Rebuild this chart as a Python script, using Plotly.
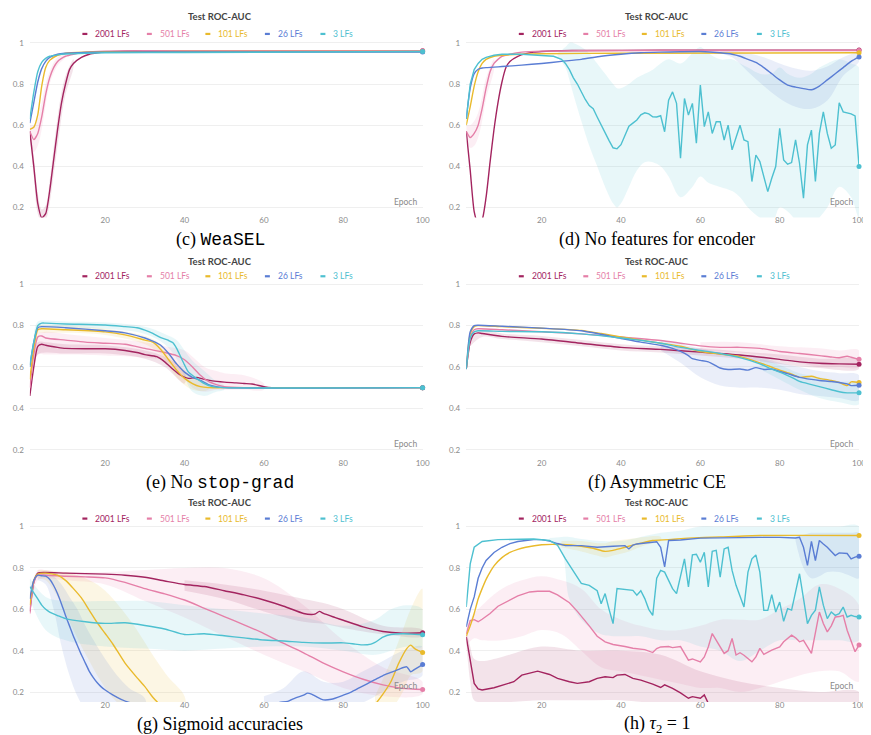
import plotly.graph_objects as go

# ====================== DATA ======================
SERIES_NAMES = ["2001 LFs", "501 LFs", "101 LFs", "26 LFs", "3 LFs"]
PANEL_TITLE = "Test ROC-AUC"
X_LABEL = "Epoch"
X_TICK_VALS = [20, 40, 60, 80, 100]
Y_TICK_VALS = [0.2, 0.4, 0.6, 0.8, 1.0]
Y_TICK_TEXT = ["0.2", "0.4", "0.6", "0.8", "1"]
CAPTIONS = [
    "(c) <span style='font-family:Liberation Mono'>WeaSEL</span>",
    "(d) No features for encoder",
    "(e) No <span style='font-family:Liberation Mono'>stop-grad</span>",
    "(f) Asymmetric CE",
    "(g) Sigmoid accuracies",
    "(h) <i>τ</i><sub>2</sub> = 1",
]

# ---- (c) WeaSEL ----
c_2001_ep = [1, 2, 3, 4, 5, 6, 7, 8, 9, 10, 11, 12, 14, 16, 18, 20, 25, 30, 50, 70, 100]
c_2001_y = [0.57, 0.40, 0.22, 0.15, 0.17, 0.28, 0.43, 0.58, 0.71, 0.80, 0.87, 0.90, 0.93, 0.945, 0.952, 0.956, 0.96, 0.961, 0.962, 0.962, 0.962]
c_501_ep = [1, 2, 3, 4, 5, 6, 7, 8, 9, 10, 12, 15, 20, 30, 60, 100]
c_501_y = [0.57, 0.53, 0.56, 0.64, 0.75, 0.83, 0.88, 0.91, 0.925, 0.935, 0.945, 0.955, 0.96, 0.962, 0.962, 0.962]
c_101_ep = [1, 2, 3, 4, 5, 6, 8, 10, 15, 20, 40, 100]
c_101_y = [0.58, 0.59, 0.65, 0.79, 0.88, 0.915, 0.94, 0.95, 0.955, 0.957, 0.958, 0.958]
c_26_ep = [1, 2, 3, 4, 5, 6, 8, 10, 15, 20, 40, 100]
c_26_y = [0.61, 0.71, 0.81, 0.875, 0.91, 0.93, 0.945, 0.95, 0.954, 0.955, 0.956, 0.956]
c_3_ep = [1, 2, 3, 4, 5, 6, 8, 10, 15, 20, 40, 100]
c_3_y = [0.63, 0.76, 0.86, 0.905, 0.925, 0.935, 0.942, 0.946, 0.95, 0.952, 0.953, 0.958]
c_501_band_ep = [1, 2, 3, 4, 5, 6, 8, 10]
c_501_lo = [0.55, 0.47, 0.50, 0.58, 0.70, 0.80, 0.89, 0.93]
c_501_hi = [0.60, 0.60, 0.63, 0.71, 0.80, 0.86, 0.93, 0.945]
c_2001_band_ep = [1, 2, 3, 4, 5, 6, 7, 8, 9, 10, 12]
c_2001_lo = [0.55, 0.35, 0.17, 0.13, 0.14, 0.22, 0.36, 0.50, 0.64, 0.75, 0.88]
c_2001_hi = [0.59, 0.45, 0.27, 0.19, 0.21, 0.33, 0.49, 0.64, 0.76, 0.84, 0.92]

# ---- (d) No features for encoder ----
d_2001_ep = [1, 2, 3, 4, 5, 6, 7, 8, 9, 10, 11, 12, 14, 16, 18, 20, 25, 30, 50, 70, 100]
d_2001_y = [0.57, 0.38, 0.18, 0.12, 0.14, 0.25, 0.42, 0.58, 0.71, 0.81, 0.88, 0.91, 0.935, 0.948, 0.955, 0.958, 0.962, 0.963, 0.964, 0.964, 0.965]
d_501_ep = [1, 2, 3, 4, 5, 6, 7, 8, 9, 10, 12, 15, 20, 30, 60, 100]
d_501_y = [0.57, 0.54, 0.56, 0.60, 0.68, 0.78, 0.86, 0.90, 0.92, 0.935, 0.945, 0.955, 0.96, 0.962, 0.963, 0.963]
d_101_ep = [1, 2, 3, 4, 5, 6, 8, 10, 15, 20, 40, 100]
d_101_y = [0.60, 0.69, 0.79, 0.86, 0.90, 0.92, 0.935, 0.94, 0.945, 0.947, 0.95, 0.952]
d_26_ep = [1, 2, 3, 4, 5, 6, 8, 10, 15, 20, 25, 30, 35, 40, 45, 50, 55, 60, 65, 68, 70, 72, 74, 76, 78, 80, 82, 84, 86, 88, 90, 92, 94, 96, 98, 100]
d_26_y = [0.63, 0.78, 0.85, 0.872, 0.878, 0.88, 0.882, 0.885, 0.892, 0.90, 0.91, 0.92, 0.935, 0.945, 0.952, 0.955, 0.957, 0.958, 0.952, 0.945, 0.935, 0.92, 0.905, 0.88, 0.85, 0.82, 0.795, 0.785, 0.778, 0.772, 0.79, 0.82, 0.85, 0.88, 0.91, 0.932]
d_3_ep = [1, 2, 3, 4, 5, 6, 8, 10, 15, 18, 21, 23, 25, 26, 27, 28, 29, 30, 31, 32, 33, 34, 35, 36, 37, 38, 39, 40, 41, 42, 43, 44, 45, 46, 47, 48, 49, 50,
          51, 52, 53, 54, 55, 56, 57, 58, 59, 60, 61, 62, 63, 64, 65, 66, 67, 68, 69, 70, 71, 72, 73, 74, 75,
          76, 77, 78, 79, 80, 81, 82, 83, 84, 85, 86, 87, 88, 89, 90, 91, 92, 93, 94, 95, 96, 97, 98, 99, 100]
d_3_y = [0.63, 0.80, 0.87, 0.90, 0.92, 0.93, 0.94, 0.945, 0.945, 0.942, 0.94, 0.935, 0.92, 0.90, 0.87, 0.83, 0.80, 0.76, 0.725, 0.695, 0.68, 0.64, 0.60, 0.56, 0.525, 0.49, 0.485, 0.505, 0.55, 0.595, 0.61, 0.625, 0.65, 0.66, 0.655, 0.641, 0.64, 0.646,
         0.568, 0.722, 0.762, 0.706, 0.439, 0.73, 0.649, 0.706, 0.512, 0.795, 0.593, 0.665, 0.56, 0.617, 0.617, 0.528, 0.6, 0.48, 0.54, 0.6, 0.528, 0.52, 0.326, 0.455, 0.423,
         0.35, 0.277, 0.342, 0.399, 0.585, 0.431, 0.41, 0.418, 0.528, 0.415, 0.245, 0.504, 0.576, 0.326, 0.56, 0.665, 0.56, 0.488, 0.504, 0.709, 0.665, 0.66, 0.655, 0.645, 0.399]
d_26_band_ep = [65, 68, 72, 76, 80, 84, 88, 92, 96, 100]
d_26_lo = [0.95, 0.93, 0.86, 0.79, 0.73, 0.69, 0.68, 0.72, 0.84, 0.91]
d_26_hi = [0.96, 0.96, 0.95, 0.93, 0.90, 0.875, 0.865, 0.885, 0.93, 0.95]
d_3_band_ep = [24, 26, 27, 28, 30, 32, 34, 36, 38, 39, 40, 42, 44, 46, 48, 50, 52, 55, 58, 60, 62, 65, 68, 70, 72, 75, 78, 80, 82, 85, 88, 90, 92, 95, 98, 100]
d_3_hi = [0.95, 0.98, 1.0, 1.0, 0.98, 0.95, 0.9, 0.85, 0.8, 0.78, 0.78, 0.8, 0.83, 0.85, 0.87, 0.9, 0.92, 0.9, 0.95, 0.98, 0.95, 0.92, 0.92, 0.9, 0.88, 0.85, 0.85, 0.88, 0.85, 0.83, 0.85, 0.88, 0.9, 0.92, 0.9, 0.88]
d_3_lo = [0.93, 0.88, 0.82, 0.75, 0.62, 0.5, 0.4, 0.3, 0.22, 0.2, 0.22, 0.3, 0.38, 0.42, 0.42, 0.4, 0.35, 0.25, 0.3, 0.35, 0.32, 0.3, 0.28, 0.25, 0.2, 0.15, 0.12, 0.2, 0.18, 0.12, 0.1, 0.15, 0.2, 0.3, 0.25, 0.15]
d_501_band_ep = [1, 2, 3, 4, 5, 6, 8]
d_501_lo = [0.55, 0.49, 0.50, 0.54, 0.62, 0.73, 0.87]
d_501_hi = [0.60, 0.60, 0.62, 0.66, 0.74, 0.83, 0.92]

# ---- (e) No stop-grad ----
e_2001_ep = [1, 2, 3, 4, 5, 8, 10, 15, 20, 25, 28, 30, 33, 35, 37, 39, 41, 43, 45, 47, 50, 53, 55, 57, 60, 62, 65, 100]
e_2001_y = [0.46, 0.60, 0.70, 0.71, 0.705, 0.695, 0.69, 0.688, 0.688, 0.68, 0.67, 0.66, 0.65, 0.625, 0.59, 0.56, 0.545, 0.55, 0.54, 0.533, 0.527, 0.523, 0.52, 0.518, 0.505, 0.5, 0.5, 0.5]
e_501_ep = [1, 2, 3, 4, 5, 10, 15, 20, 25, 30, 35, 38, 40, 42, 44, 46, 48, 50, 55, 60, 100]
e_501_y = [0.50, 0.66, 0.745, 0.75, 0.74, 0.73, 0.72, 0.715, 0.71, 0.69, 0.67, 0.655, 0.635, 0.60, 0.56, 0.53, 0.515, 0.505, 0.5, 0.5, 0.5]
e_101_ep = [1, 2, 3, 4, 10, 20, 25, 30, 32, 34, 36, 38, 40, 42, 44, 46, 50, 100]
e_101_y = [0.54, 0.69, 0.78, 0.785, 0.78, 0.77, 0.755, 0.73, 0.72, 0.685, 0.635, 0.585, 0.545, 0.52, 0.505, 0.5, 0.5, 0.5]
e_26_ep = [1, 2, 3, 4, 10, 20, 25, 30, 32, 34, 36, 38, 40, 42, 44, 46, 48, 50, 100]
e_26_y = [0.60, 0.72, 0.79, 0.795, 0.79, 0.775, 0.765, 0.74, 0.725, 0.705, 0.665, 0.615, 0.575, 0.55, 0.535, 0.515, 0.505, 0.5, 0.5]
e_3_ep = [1, 2, 3, 4, 5, 10, 20, 25, 28, 30, 32, 34, 36, 37, 38, 39, 40, 41, 43, 45, 47, 50, 100]
e_3_y = [0.61, 0.72, 0.80, 0.812, 0.812, 0.808, 0.803, 0.795, 0.79, 0.778, 0.762, 0.742, 0.728, 0.718, 0.69, 0.65, 0.61, 0.575, 0.545, 0.52, 0.505, 0.5, 0.5]
e_501_band_ep = [2, 3, 5, 10, 20, 30, 35, 40, 42, 45, 48, 50, 55, 60]
e_501_lo = [0.6, 0.66, 0.66, 0.66, 0.655, 0.645, 0.63, 0.55, 0.5, 0.48, 0.49, 0.49, 0.49, 0.49]
e_501_hi = [0.7, 0.76, 0.77, 0.76, 0.74, 0.72, 0.7, 0.68, 0.65, 0.6, 0.58, 0.57, 0.56, 0.52]
e_3_band_ep = [2, 3, 5, 10, 20, 30, 35, 38, 40, 42, 45, 48, 50]
e_3_lo = [0.68, 0.78, 0.79, 0.79, 0.785, 0.76, 0.71, 0.64, 0.55, 0.48, 0.46, 0.48, 0.49]
e_3_hi = [0.76, 0.82, 0.825, 0.82, 0.815, 0.795, 0.76, 0.73, 0.68, 0.63, 0.58, 0.53, 0.51]
e_101_band_ep = [2, 3, 5, 10, 20, 30, 34, 38, 42, 46]
e_101_lo = [0.64, 0.76, 0.765, 0.765, 0.755, 0.71, 0.66, 0.55, 0.49, 0.49]
e_101_hi = [0.72, 0.80, 0.80, 0.80, 0.785, 0.75, 0.71, 0.62, 0.55, 0.51]
e_2001_band_ep = [2, 3, 5, 10, 20, 30, 35, 40]
e_2001_lo = [0.55, 0.66, 0.67, 0.665, 0.665, 0.64, 0.6, 0.52]
e_2001_hi = [0.64, 0.72, 0.72, 0.71, 0.705, 0.68, 0.65, 0.58]

# ---- (f) Asymmetric CE ----
f_2001_ep = [1, 2, 3, 4, 5, 10, 20, 30, 40, 50, 60, 70, 80, 85, 90, 95, 100]
f_2001_y = [0.59, 0.72, 0.76, 0.765, 0.762, 0.748, 0.735, 0.715, 0.695, 0.685, 0.672, 0.658, 0.637, 0.625, 0.618, 0.615, 0.613]
f_501_ep = [1, 2, 3, 4, 10, 20, 30, 40, 50, 55, 60, 65, 70, 75, 80, 85, 90, 93, 95, 97, 98, 100]
f_501_y = [0.59, 0.74, 0.78, 0.785, 0.78, 0.77, 0.76, 0.745, 0.728, 0.715, 0.702, 0.695, 0.695, 0.69, 0.675, 0.665, 0.655, 0.648, 0.645, 0.652, 0.647, 0.637]
f_101_ep = [1, 2, 3, 4, 10, 20, 30, 35, 40, 45, 50, 55, 60, 65, 70, 75, 80, 83, 85, 88, 90, 93, 95, 97, 98, 100]
f_101_y = [0.59, 0.76, 0.795, 0.8, 0.795, 0.787, 0.777, 0.762, 0.745, 0.73, 0.715, 0.70, 0.675, 0.662, 0.65, 0.62, 0.585, 0.565, 0.55, 0.555, 0.545, 0.535, 0.525, 0.51, 0.528, 0.525]
f_26_ep = [1, 2, 3, 4, 10, 20, 30, 40, 45, 50, 53, 55, 57, 58, 60, 62, 64, 65, 67, 70, 72, 74, 76, 78, 80, 82, 85, 88, 90, 93, 95, 97, 98, 100]
f_26_y = [0.59, 0.77, 0.80, 0.802, 0.797, 0.788, 0.775, 0.738, 0.72, 0.705, 0.69, 0.675, 0.655, 0.64, 0.632, 0.625, 0.605, 0.595, 0.588, 0.59, 0.585, 0.597, 0.588, 0.59, 0.578, 0.568, 0.55, 0.54, 0.535, 0.53, 0.525, 0.518, 0.51, 0.512]
f_3_ep = [1, 2, 3, 4, 10, 20, 30, 40, 50, 55, 60, 65, 70, 75, 78, 80, 83, 85, 88, 90, 93, 95, 97, 100]
f_3_y = [0.59, 0.74, 0.77, 0.775, 0.772, 0.77, 0.76, 0.74, 0.715, 0.695, 0.68, 0.665, 0.645, 0.615, 0.59, 0.575, 0.55, 0.53, 0.515, 0.505, 0.49, 0.48, 0.475, 0.475]
f_26_band_ep = [50, 55, 60, 65, 70, 75, 80, 85, 90, 95, 100]
f_26_lo = [0.68, 0.62, 0.55, 0.51, 0.5, 0.5, 0.49, 0.47, 0.46, 0.45, 0.44]
f_26_hi = [0.73, 0.71, 0.69, 0.67, 0.66, 0.65, 0.62, 0.6, 0.58, 0.57, 0.56]
f_501_band_ep = [60, 70, 80, 90, 95, 100]
f_501_lo = [0.68, 0.67, 0.645, 0.6, 0.6, 0.6]
f_501_hi = [0.72, 0.72, 0.70, 0.69, 0.68, 0.68]
f_3_band_ep = [75, 80, 85, 90, 95, 100]
f_3_lo = [0.59, 0.54, 0.49, 0.45, 0.43, 0.42]
f_3_hi = [0.64, 0.61, 0.57, 0.55, 0.53, 0.52]
f_2001_band_ep = [2, 5, 10, 20, 30, 40, 50, 60, 70, 80, 90, 100]
f_2001_lo = [0.7, 0.745, 0.735, 0.72, 0.70, 0.68, 0.67, 0.655, 0.64, 0.615, 0.595, 0.59]
f_2001_hi = [0.74, 0.78, 0.762, 0.75, 0.73, 0.71, 0.70, 0.69, 0.675, 0.66, 0.64, 0.635]

# ---- (g) Sigmoid accuracies ----
g_2001_ep = [1, 2, 3, 5, 10, 20, 25, 30, 35, 40, 45, 50, 55, 60, 65, 70, 72, 73, 74, 75, 78, 80, 85, 90, 95, 100]
g_2001_y = [0.59, 0.73, 0.775, 0.778, 0.775, 0.77, 0.765, 0.755, 0.737, 0.72, 0.71, 0.69, 0.67, 0.645, 0.615, 0.58, 0.575, 0.578, 0.59, 0.58, 0.56, 0.547, 0.515, 0.493, 0.485, 0.487]
g_501_ep = [1, 2, 3, 5, 10, 15, 20, 25, 30, 35, 40, 45, 50, 55, 60, 65, 70, 75, 80, 85, 90, 95, 100]
g_501_y = [0.58, 0.73, 0.765, 0.765, 0.76, 0.757, 0.752, 0.73, 0.70, 0.675, 0.645, 0.605, 0.565, 0.525, 0.483, 0.435, 0.39, 0.34, 0.298, 0.262, 0.235, 0.218, 0.212]
g_101_ep = [1, 2, 3, 5, 8, 10, 12, 14, 16, 18, 20, 22, 25, 28, 30, 32, 34, 36, 38, 84, 86, 88, 90, 92, 94, 96, 97, 98, 99, 100]
g_101_y = [0.62, 0.74, 0.77, 0.775, 0.765, 0.74, 0.70, 0.655, 0.595, 0.535, 0.483, 0.43, 0.34, 0.27, 0.226, 0.175, 0.135, 0.10, 0.08, 0.08, 0.10, 0.14, 0.19, 0.25, 0.34, 0.41, 0.427, 0.41, 0.40, 0.391]
g_26_ep = [1, 2, 3, 4, 5, 6, 7, 8, 9, 10, 11, 12, 13, 14, 15, 16, 17, 18, 19, 20, 22, 24, 26, 28, 30,
           60, 62, 64, 66, 68, 70, 71, 72, 73, 75, 77, 80, 82, 84, 86, 88, 90, 92, 94, 96, 97, 98, 100]
g_26_y = [0.65, 0.74, 0.765, 0.762, 0.76, 0.745, 0.715, 0.675, 0.625, 0.57, 0.52, 0.47, 0.425, 0.38, 0.34, 0.30, 0.27, 0.245, 0.225, 0.21, 0.185, 0.165, 0.15, 0.14, 0.13,
          0.13, 0.14, 0.15, 0.155, 0.172, 0.185, 0.195, 0.19, 0.18, 0.162, 0.165, 0.185, 0.2, 0.22, 0.24, 0.26, 0.28, 0.295, 0.31, 0.322, 0.298, 0.31, 0.333]
g_3_ep = [1, 2, 3, 4, 5, 6, 8, 10, 15, 20, 25, 30, 35, 40, 45, 50, 55, 60, 65, 70, 75, 80, 83, 85, 87, 88, 90, 92, 95, 97, 100]
g_3_y = [0.71, 0.68, 0.65, 0.62, 0.60, 0.587, 0.57, 0.555, 0.54, 0.532, 0.535, 0.522, 0.505, 0.478, 0.482, 0.472, 0.462, 0.452, 0.447, 0.44, 0.437, 0.438, 0.432, 0.428, 0.432, 0.44, 0.465, 0.478, 0.482, 0.48, 0.477]
g_501_band_ep = [1, 3, 5, 10, 20, 30, 40, 50, 60, 70, 80, 90, 100]
g_501_lo = [0.55, 0.74, 0.75, 0.74, 0.72, 0.64, 0.56, 0.47, 0.38, 0.3, 0.22, 0.18, 0.19]
g_501_hi = [0.62, 0.79, 0.79, 0.78, 0.78, 0.79, 0.80, 0.80, 0.75, 0.62, 0.45, 0.32, 0.25]
g_2001_band_ep = [40, 50, 60, 70, 75, 80, 90, 100]
g_2001_lo = [0.69, 0.65, 0.59, 0.54, 0.53, 0.51, 0.48, 0.47]
g_2001_hi = [0.74, 0.72, 0.69, 0.65, 0.63, 0.60, 0.52, 0.50]
g_101_band_ep = [3, 5, 8, 10, 12, 14, 16, 18, 20, 22, 25, 28, 30, 33, 36, 40]
g_101_lo = [0.75, 0.74, 0.66, 0.58, 0.5, 0.42, 0.35, 0.28, 0.22, 0.17, 0.12, 0.1, 0.1, 0.1, 0.1, 0.1]
g_101_hi = [0.79, 0.79, 0.78, 0.78, 0.77, 0.76, 0.74, 0.72, 0.69, 0.65, 0.58, 0.5, 0.44, 0.35, 0.27, 0.18]
g_101_band2_ep = [88, 92, 95, 97, 100]
g_101_lo2 = [0.1, 0.12, 0.2, 0.28, 0.3]
g_101_hi2 = [0.18, 0.35, 0.5, 0.6, 0.7]
g_26_band_ep = [3, 5, 7, 9, 11, 13, 15, 18, 20, 23, 26, 30]
g_26_lo = [0.74, 0.72, 0.6, 0.42, 0.28, 0.18, 0.12, 0.1, 0.1, 0.1, 0.1, 0.1]
g_26_hi = [0.78, 0.78, 0.76, 0.72, 0.66, 0.6, 0.52, 0.42, 0.36, 0.28, 0.22, 0.17]
g_26_band2_ep = [60, 65, 70, 75, 80, 85, 90, 95, 100]
g_26_lo2 = [0.1, 0.1, 0.12, 0.12, 0.13, 0.15, 0.2, 0.25, 0.28]
g_26_hi2 = [0.18, 0.22, 0.3, 0.25, 0.25, 0.3, 0.35, 0.4, 0.42]
g_3_band_ep = [1, 5, 10, 20, 30, 40, 50, 60, 70, 80, 88, 92, 96, 100]
g_3_lo = [0.65, 0.5, 0.45, 0.42, 0.41, 0.4, 0.41, 0.42, 0.42, 0.4, 0.38, 0.4, 0.42, 0.42]
g_3_hi = [0.75, 0.66, 0.64, 0.64, 0.64, 0.62, 0.6, 0.58, 0.56, 0.52, 0.55, 0.6, 0.62, 0.6]

# ---- (h) tau_2 = 1 ----
h_2001_ep = [1, 2, 3, 4, 5, 8, 10, 13, 15, 18, 19, 22, 24, 27, 29, 32, 34, 36, 38, 39, 41, 43, 45, 48, 50, 51, 53, 55, 57, 58, 60, 61, 62, 63, 66, 70, 80, 90, 100]
h_2001_y = [0.467, 0.346, 0.242, 0.215, 0.21, 0.221, 0.234, 0.25, 0.282, 0.298, 0.301, 0.285, 0.266, 0.25, 0.242, 0.25, 0.266, 0.274, 0.27, 0.282, 0.285, 0.266, 0.258, 0.238, 0.222, 0.235, 0.218, 0.196, 0.17, 0.178, 0.17, 0.186, 0.146, 0.12, 0.1, 0.08, 0.07, 0.07, 0.07]
h_501_ep = [1, 2, 3, 4, 5, 7, 9, 12, 14, 17, 19, 22, 24, 27, 29, 32, 34, 36, 38, 41, 43, 46, 48, 49, 50, 52, 53, 55, 57, 58, 60, 61, 62, 63, 65, 66, 67, 68, 69, 70, 71, 73, 74, 75, 76, 78, 80, 81, 83, 84, 85, 86, 88, 89, 90, 91, 92, 93, 94, 95, 96, 97, 98, 99, 100]
h_501_y = [0.48, 0.545, 0.55, 0.54, 0.552, 0.58, 0.615, 0.645, 0.665, 0.684, 0.687, 0.687, 0.67, 0.632, 0.59, 0.52, 0.47, 0.443, 0.43, 0.42, 0.412, 0.405, 0.391, 0.41, 0.418, 0.42, 0.415, 0.42, 0.354, 0.36, 0.346, 0.37, 0.418, 0.483, 0.42, 0.387, 0.4, 0.459, 0.379, 0.39, 0.378, 0.346, 0.37, 0.411, 0.382, 0.403, 0.418, 0.443, 0.475, 0.462, 0.443, 0.45, 0.387, 0.483, 0.587, 0.531, 0.491, 0.52, 0.563, 0.565, 0.571, 0.499, 0.451, 0.395, 0.427]
h_101_ep = [1, 2, 3, 4, 5, 6, 7, 8, 10, 12, 14, 16, 20, 25, 30, 33, 36, 38, 40, 42, 45, 48, 52, 57, 65, 75, 100]
h_101_y = [0.47, 0.52, 0.58, 0.65, 0.70, 0.745, 0.78, 0.81, 0.85, 0.875, 0.89, 0.90, 0.912, 0.913, 0.905, 0.895, 0.88, 0.885, 0.895, 0.905, 0.92, 0.933, 0.937, 0.944, 0.95, 0.957, 0.957]
h_26_ep = [1, 2, 3, 4, 5, 6, 8, 10, 12, 14, 16, 18, 20, 22, 24, 26, 30, 34, 38, 41, 42, 43, 44, 46, 48, 49, 50, 51, 52, 55, 60, 65, 70, 75, 80, 84, 85, 86, 87, 88, 89, 90, 91, 92, 94, 95, 97, 98, 99, 100]
h_26_y = [0.515, 0.60, 0.66, 0.75, 0.80, 0.836, 0.875, 0.90, 0.918, 0.928, 0.933, 0.937, 0.937, 0.93, 0.918, 0.908, 0.908, 0.90, 0.905, 0.908, 0.892, 0.91, 0.916, 0.92, 0.925, 0.927, 0.90, 0.805, 0.933, 0.935, 0.944, 0.946, 0.948, 0.948, 0.948, 0.945, 0.948, 0.90, 0.812, 0.928, 0.836, 0.933, 0.916, 0.9, 0.86, 0.873, 0.87, 0.844, 0.852, 0.857]
h_3_ep = [1, 2, 3, 5, 9, 18, 22, 24, 26, 28, 29, 30, 32, 34, 35, 36, 37, 38, 39, 41, 43, 44, 45, 46, 47, 48, 49, 50, 51, 52, 53, 54, 55, 56, 57, 58, 59, 60,
          61, 62, 63, 64, 65, 66, 67, 68, 69, 70, 71, 72, 73, 74, 75, 76, 77, 78, 79, 80, 81, 82, 83, 84, 85, 86, 87, 88, 89, 90, 91, 92, 93, 94, 95, 96, 97, 98, 99, 100]
h_3_y = [0.611, 0.82, 0.9, 0.928, 0.937, 0.94, 0.933, 0.91, 0.844, 0.785, 0.76, 0.725, 0.716, 0.69, 0.627, 0.676, 0.6, 0.531, 0.7, 0.697, 0.692, 0.668, 0.69, 0.652, 0.6, 0.571, 0.75, 0.788, 0.78, 0.74, 0.70, 0.676, 0.76, 0.844, 0.708, 0.863, 0.866, 0.828,
         0.876, 0.708, 0.88, 0.885, 0.756, 0.892, 0.9, 0.788, 0.716, 0.66, 0.611, 0.78, 0.844, 0.863, 0.78, 0.595, 0.595, 0.671, 0.587, 0.635, 0.542, 0.603, 0.596, 0.684, 0.772, 0.652, 0.531, 0.571, 0.596, 0.708, 0.62, 0.555, 0.587, 0.571, 0.579, 0.611, 0.563, 0.571, 0.565, 0.563]
h_501_band_ep = [1, 3, 5, 10, 15, 20, 25, 30, 35, 40, 45, 50, 55, 60, 65, 70, 75, 80, 85, 90, 95, 100]
h_501_lo = [0.42, 0.46, 0.45, 0.45, 0.47, 0.5, 0.48, 0.4, 0.32, 0.3, 0.28, 0.26, 0.24, 0.22, 0.22, 0.2, 0.22, 0.25, 0.28, 0.3, 0.3, 0.25]
h_501_hi = [0.52, 0.58, 0.62, 0.7, 0.74, 0.76, 0.74, 0.7, 0.6, 0.55, 0.52, 0.5, 0.5, 0.52, 0.55, 0.55, 0.55, 0.6, 0.65, 0.72, 0.7, 0.62]
h_2001_band_ep = [1, 2, 3, 5, 10, 20, 30, 40, 50, 60, 70, 80, 90, 100]
h_2001_lo = [0.44, 0.25, 0.16, 0.15, 0.15, 0.16, 0.16, 0.16, 0.14, 0.1, 0.1, 0.1, 0.1, 0.1]
h_2001_hi = [0.5, 0.42, 0.36, 0.35, 0.37, 0.42, 0.4, 0.4, 0.38, 0.3, 0.25, 0.22, 0.2, 0.2]
h_3_band_ep = [22, 25, 27, 30, 35, 40, 45, 50, 55, 60, 65, 70, 75, 80, 85, 90, 95, 100]
h_3_lo = [0.93, 0.88, 0.65, 0.55, 0.48, 0.47, 0.47, 0.45, 0.45, 0.42, 0.4, 0.35, 0.4, 0.45, 0.45, 0.45, 0.45, 0.45]
h_3_hi = [0.945, 0.95, 0.95, 0.94, 0.93, 0.93, 0.95, 0.97, 0.98, 1.0, 1.0, 1.0, 1.0, 1.0, 1.0, 1.0, 1.0, 1.0]
h_101_band_ep = [25, 30, 34, 36, 38, 42, 46, 50]
h_101_lo = [0.9, 0.88, 0.86, 0.85, 0.86, 0.88, 0.91, 0.93]
h_101_hi = [0.93, 0.93, 0.92, 0.92, 0.93, 0.94, 0.95, 0.95]
h_26_band_ep = [84, 86, 88, 90, 92, 95, 98, 100]
h_26_lo = [0.93, 0.8, 0.75, 0.76, 0.78, 0.78, 0.76, 0.75]
h_26_hi = [0.95, 0.96, 0.97, 0.97, 0.97, 0.97, 0.97, 0.97]

# ====================== STYLE / LAYOUT ======================
COLORS = ["#A3245F", "#E57FA8", "#E9BA2C", "#5A7DD4", "#4DC0D0"]
PAGE_W, PAGE_H = 871, 735
BODY_MARGIN = 8                      # default page margin around the plot div
W, H = PAGE_W - BODY_MARGIN, PAGE_H - BODY_MARGIN
Y_MIN, Y_MAX = 0.1515, 1.0145
# positions below are in page pixels
ROW_TOP = [38, 280, 523]
ROW_BOT = [216, 459, 702]
ROW_TITLE = [15, 260, 502]
ROW_LEGEND = [32, 275, 518]
ROW_CAPTION = [238, 482, 724]
COL_LEFT = [30, 470]
COL_RIGHT = [426, 866]
COL_CENTER = [222, 662]
LEG_DASH_X = [53, 118, 177, 237, 293]   # relative to plot left
SANS = "Lato, 'Open Sans', sans-serif"


def fx(px):
    return (px - BODY_MARGIN) / W


def fy(py):
    return 1 - (py - BODY_MARGIN) / H


PANELS = [
    dict(lines=[(c_2001_ep, c_2001_y), (c_501_ep, c_501_y), (c_101_ep, c_101_y), (c_26_ep, c_26_y), (c_3_ep, c_3_y)],
         bands=[(0, c_2001_band_ep, c_2001_lo, c_2001_hi), (1, c_501_band_ep, c_501_lo, c_501_hi)]),
    dict(lines=[(d_2001_ep, d_2001_y), (d_501_ep, d_501_y), (d_101_ep, d_101_y), (d_26_ep, d_26_y), (d_3_ep, d_3_y)],
         bands=[(4, d_3_band_ep, d_3_lo, d_3_hi), (3, d_26_band_ep, d_26_lo, d_26_hi), (1, d_501_band_ep, d_501_lo, d_501_hi)]),
    dict(lines=[(e_2001_ep, e_2001_y), (e_501_ep, e_501_y), (e_101_ep, e_101_y), (e_26_ep, e_26_y), (e_3_ep, e_3_y)],
         bands=[(1, e_501_band_ep, e_501_lo, e_501_hi), (0, e_2001_band_ep, e_2001_lo, e_2001_hi),
                (2, e_101_band_ep, e_101_lo, e_101_hi), (4, e_3_band_ep, e_3_lo, e_3_hi)]),
    dict(lines=[(f_2001_ep, f_2001_y), (f_501_ep, f_501_y), (f_101_ep, f_101_y), (f_26_ep, f_26_y), (f_3_ep, f_3_y)],
         bands=[(3, f_26_band_ep, f_26_lo, f_26_hi), (1, f_501_band_ep, f_501_lo, f_501_hi),
                (4, f_3_band_ep, f_3_lo, f_3_hi), (0, f_2001_band_ep, f_2001_lo, f_2001_hi)]),
    dict(lines=[(g_2001_ep, g_2001_y), (g_501_ep, g_501_y), (g_101_ep, g_101_y), (g_26_ep, g_26_y), (g_3_ep, g_3_y)],
         bands=[(1, g_501_band_ep, g_501_lo, g_501_hi), (0, g_2001_band_ep, g_2001_lo, g_2001_hi),
                (2, g_101_band_ep, g_101_lo, g_101_hi), (2, g_101_band2_ep, g_101_lo2, g_101_hi2),
                (3, g_26_band_ep, g_26_lo, g_26_hi), (3, g_26_band2_ep, g_26_lo2, g_26_hi2),
                (4, g_3_band_ep, g_3_lo, g_3_hi)]),
    dict(lines=[(h_2001_ep, h_2001_y), (h_501_ep, h_501_y), (h_101_ep, h_101_y), (h_26_ep, h_26_y), (h_3_ep, h_3_y)],
         bands=[(1, h_501_band_ep, h_501_lo, h_501_hi), (0, h_2001_band_ep, h_2001_lo, h_2001_hi),
                (4, h_3_band_ep, h_3_lo, h_3_hi), (2, h_101_band_ep, h_101_lo, h_101_hi),
                (3, h_26_band_ep, h_26_lo, h_26_hi)]),
]
JAGGED = {(1, 4), (5, 1), (5, 3), (5, 4), (5, 0)}


def rgba(hex_color, a):
    h = hex_color.lstrip("#")
    return "rgba(%d,%d,%d,%.3f)" % (int(h[0:2], 16), int(h[2:4], 16), int(h[4:6], 16), a)


fig = go.Figure()
layout = dict(width=W, height=H, margin=dict(l=0, r=0, t=0, b=0),
              paper_bgcolor="white", plot_bgcolor="white", showlegend=False)
annotations = []
shapes = []

for i, p in enumerate(PANELS):
    row, col = i // 2, i % 2
    sfx = "" if i == 0 else str(i + 1)
    xa, ya = "x" + sfx, "y" + sfx
    layout["xaxis" + sfx] = dict(
        domain=[fx(COL_LEFT[col]), fx(COL_RIGHT[col])], range=[1, 100], anchor=ya,
        tickvals=X_TICK_VALS, showgrid=False, zeroline=False, showline=False,
        ticks="", ticklabelstandoff=-3,
        tickfont=dict(family=SANS, size=8, color="#8a8a8a"))
    layout["yaxis" + sfx] = dict(
        domain=[fy(ROW_BOT[row]), fy(ROW_TOP[row])], range=[Y_MIN, Y_MAX], anchor=xa,
        tickvals=Y_TICK_VALS, ticktext=Y_TICK_TEXT, showgrid=True, gridcolor="#efefef", gridwidth=1,
        zeroline=False, showline=False, ticks="", ticklabelstandoff=5,
        tickfont=dict(family=SANS, size=8, color="#8a8a8a"))

    # bands
    for (si, bep, lo, hi) in p["bands"]:
        fig.add_trace(go.Scatter(
            x=list(bep) + list(bep)[::-1], y=list(hi) + list(lo)[::-1],
            xaxis=xa, yaxis=ya, mode="lines", fill="toself",
            fillcolor=rgba(COLORS[si], 0.13), line=dict(width=0, color=rgba(COLORS[si], 0)),
            hoverinfo="skip", line_shape="spline"))
    # lines
    for si, (ep, ys) in enumerate(p["lines"]):
        shape = "linear" if (i, si) in JAGGED else "spline"
        fig.add_trace(go.Scatter(
            x=ep, y=ys, xaxis=xa, yaxis=ya, mode="lines", name=SERIES_NAMES[si],
            line=dict(color=COLORS[si], width=1.4, shape=shape, smoothing=0.6)))
    # end markers
    for si, (ep, ys) in enumerate(p["lines"]):
        if ys[-1] >= Y_MIN:
            fig.add_trace(go.Scatter(
                x=[ep[-1]], y=[ys[-1]], xaxis=xa, yaxis=ya, mode="markers",
                marker=dict(color=COLORS[si], size=5), cliponaxis=False, hoverinfo="skip"))

    # title
    annotations.append(dict(text="<b>%s</b>" % PANEL_TITLE, xref="paper", yref="paper",
                            x=fx(COL_CENTER[col]), y=fy(ROW_TITLE[row]), xanchor="center", yanchor="middle",
                            showarrow=False, font=dict(family=SANS, size=9.5, color="#444444")))
    # legend
    for si, name in enumerate(SERIES_NAMES):
        x0 = COL_LEFT[col] + LEG_DASH_X[si]
        yy = fy(ROW_LEGEND[row])
        shapes.append(dict(type="line", xref="paper", yref="paper", x0=fx(x0), x1=fx(x0 + 5),
                           y0=yy, y1=yy, line=dict(color=COLORS[si], width=2.2)))
        annotations.append(dict(text=name, xref="paper", yref="paper", x=fx(x0 + 11), y=yy,
                                xanchor="left", yanchor="middle", showarrow=False,
                                font=dict(family=SANS, size=8.5, color=COLORS[si])))
    # epoch label
    annotations.append(dict(text=X_LABEL, xref=xa, yref=ya, x=99, y=0.228, xanchor="right", yanchor="middle",
                            showarrow=False, font=dict(family=SANS, size=8.5, color="#8a8a8a")))
    # caption
    annotations.append(dict(text=CAPTIONS[i], xref="paper", yref="paper", x=fx(COL_CENTER[col]),
                            y=fy(ROW_CAPTION[row]), xanchor="center", yanchor="middle", showarrow=False,
                            font=dict(family="Liberation Serif, serif", size=18, color="#000000")))

layout["annotations"] = annotations
layout["shapes"] = shapes
fig.update_layout(**layout)
fig.write_html("out.html")
